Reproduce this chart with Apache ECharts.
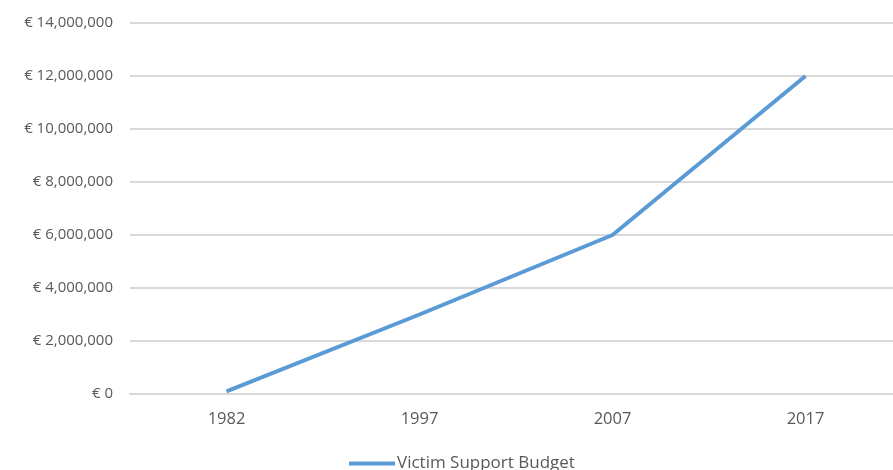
<!DOCTYPE html>
<html><head><meta charset="utf-8">
<script src="https://cdn.jsdelivr.net/npm/echarts@6/dist/echarts.min.js"></script>
<style>html,body{margin:0;padding:0;background:#fff}#c{width:893px;height:470px}</style>
</head><body><div id="c"></div>
<script>
const categories = ['1982', '1997', '2007', '2017'];
const budget = [100000, 3000000, 6000000, 12000000];
const seriesName = 'Victim Support Budget';

const chart = echarts.init(document.getElementById('c'), null, {renderer: 'canvas'});
const fmt = v => '€ ' + Number(v).toLocaleString('en-US');
chart.setOption({
  animation: false,
  textStyle: {fontFamily: 'Open Sans'},
  grid: {left: 130, width: 772, top: 23, height: 371, containLabel: false, outerBoundsMode: 'none'},
  legend: {
    top: 450, left: 344,
    icon: 'rect', itemWidth: 46, itemHeight: 4, itemGap: 10,
    textStyle: {fontSize: 17, color: '#595959', fontFamily: 'Open Sans', padding: [0, 0, 0, -3]},
    data: [seriesName]
  },
  xAxis: {
    type: 'category', data: categories, boundaryGap: true,
    axisLine: {lineStyle: {color: '#d9d9d9', width: 2}},
    axisTick: {show: false},
    axisLabel: {color: '#595959', fontSize: 16.5, margin: 17}
  },
  yAxis: {
    type: 'value', min: 0, max: 14000000, interval: 2000000,
    axisLine: {show: false}, axisTick: {show: false},
    splitLine: {lineStyle: {color: '#d9d9d9', width: 2}},
    axisLabel: {color: '#595959', fontSize: 15, margin: 17, formatter: fmt}
  },
  series: [{
    name: seriesName, type: 'line', data: budget,
    symbol: 'none', lineStyle: {color: '#5B9BD5', width: 4},
    itemStyle: {color: '#5B9BD5'}
  }]
});
</script></body></html>
